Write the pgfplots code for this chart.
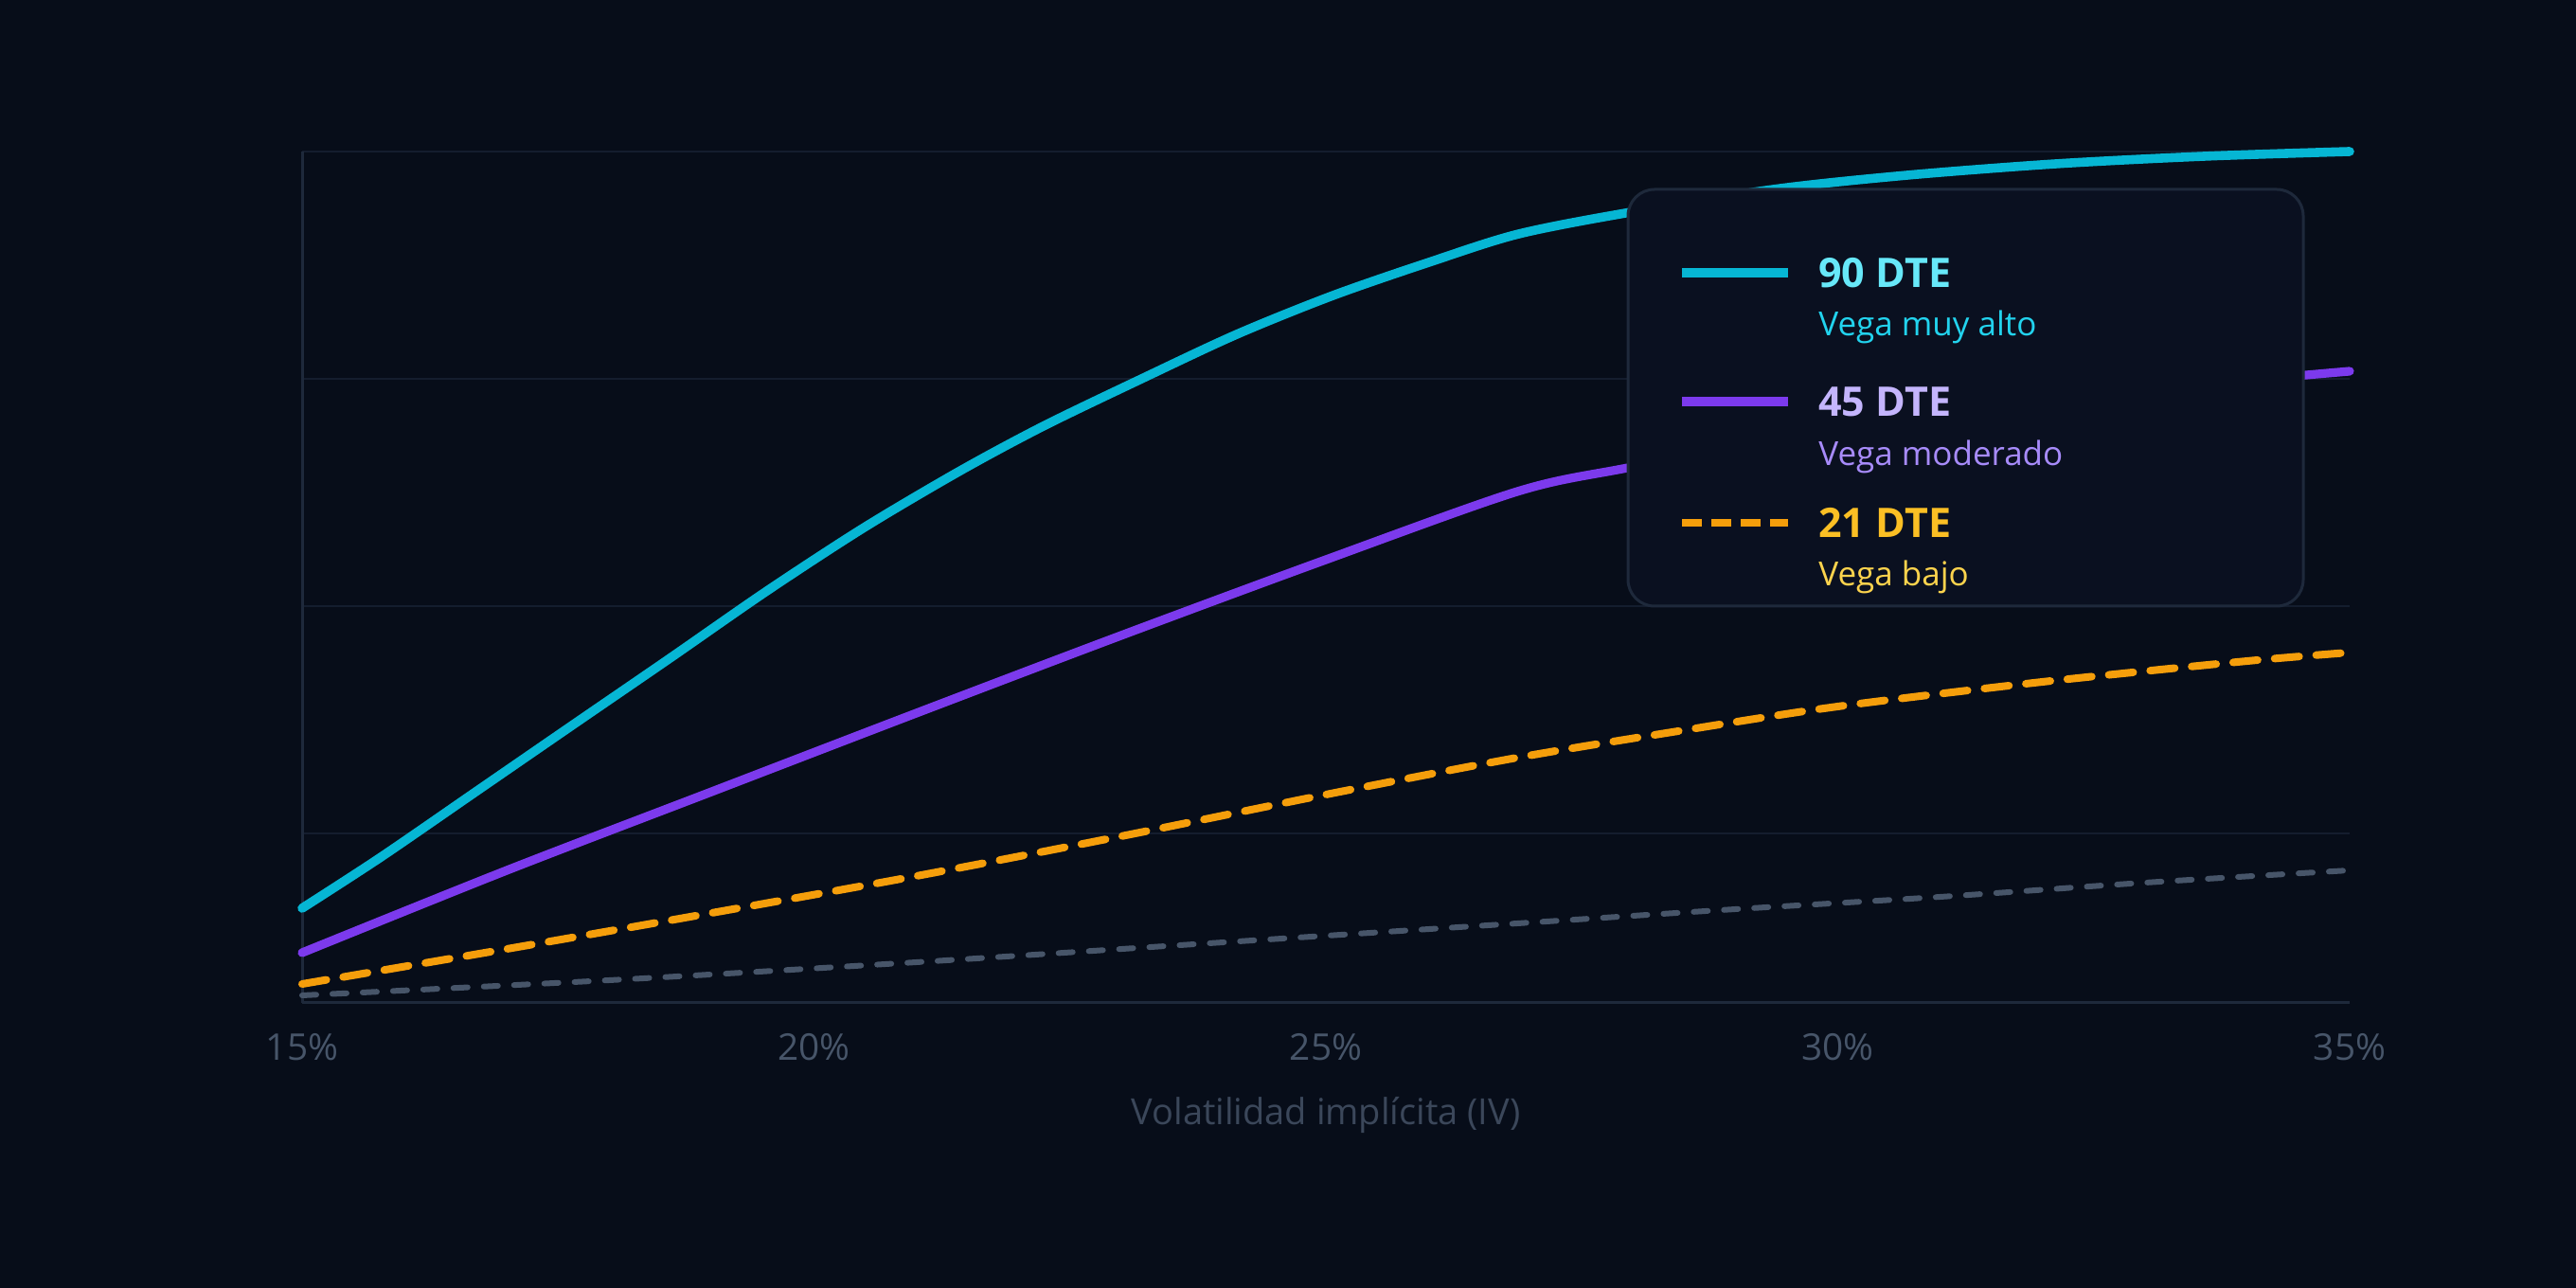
\documentclass[border=0pt]{standalone}
\usepackage{pgfplots}
\pgfplotsset{compat=1.18}
\usepackage{fontspec}
\setmainfont{Open Sans}
\definecolor{bgc}{HTML}{070D19}
\definecolor{gridc}{HTML}{141D2E}
\definecolor{axisc}{HTML}{1E293B}
\definecolor{tickc}{HTML}{475569}
\definecolor{labelc}{HTML}{3B475A}
\definecolor{cyanc}{HTML}{06B6D4}
\definecolor{purplec}{HTML}{7C3AED}
\definecolor{orangec}{HTML}{F59E0B}
\definecolor{grayc}{HTML}{475569}
\definecolor{legfill}{HTML}{0A1020}
\definecolor{legbord}{HTML}{1E293B}
\definecolor{cyant}{HTML}{67E8F9}
\definecolor{cyans}{HTML}{22D3EE}
\definecolor{purplet}{HTML}{C4B5FD}
\definecolor{purples}{HTML}{A78BFA}
\definecolor{oranget}{HTML}{FBBF24}
\definecolor{oranges}{HTML}{FCD34D}
\begin{document}
\begin{tikzpicture}[x=1pt,y=1pt]
\useasboundingbox (0,0) rectangle (1360,680);
\fill[bgc] (0,0) rectangle (1360,680);
\begin{axis}[
  at={(159.5pt,150.5pt)}, anchor=south west,
  scale only axis, width=1081pt, height=449.5pt,
  xmin=15, xmax=35, ymin=0, ymax=899,
  axis lines=left,
  axis line style={draw=axisc, line width=1.5pt, -},
  xtick={15,20,25,30,35},
  xticklabels={15\%,20\%,25\%,30\%,35\%},
  ytick={179,419,659,899}, yticklabels={},
  ymajorgrids, grid style={draw=gridc, line width=1pt},
  major tick length=0,
  xticklabel style={font=\fontsize{19.4}{20}\selectfont, text=tickc, anchor=center, yshift=-23.5pt},
  clip=false,
]
\addplot[grayc, line width=3pt, line cap=round, smooth, tension=0.5, dash pattern=on 7.5pt off 8.5pt] coordinates {
(15,8) (18,24) (21,43) (24,64) (26.87,84) (29,99) (31,112) (33,127) (35,140)};
\addplot[orangec, line width=4pt, line cap=round, smooth, tension=0.5, dash pattern=on 13pt off 9pt] coordinates {
(15,20) (17,57) (19,95) (21,134) (23,176) (25,220) (26.87,259) (28.5,288) (30,313) (32,339) (34,361) (35,370)};
\addplot[purplec, line width=4.6pt, line cap=round, smooth, tension=0.5] coordinates {
(15,53) (17,140) (19,223) (21,306) (23,388) (25,468) (26.87,540) (27.9,564) (29.5,594) (31,618) (32.5,638) (34,657) (35,667)};
\addplot[cyanc, line width=4.8pt, line cap=round, smooth, tension=0.5] coordinates {
(15,100) (15.77,154) (16.71,224) (17.65,294) (18.60,364.5) (19.54,435) (20.49,502) (21.43,562) (22.24,609) (23.19,658.5) (24.13,706) (25.07,747) (26.02,782.5) (26.87,811.6) (27.90,833.5) (29.37,859) (30.68,874) (32.13,886) (33.58,894) (35,899)};
\end{axis}
% x label
\node[anchor=base, inner sep=0, text=labelc, font=\fontsize{19}{20}\selectfont] at (700,86) {Volatilidad implícita (IV)};
% legend
\draw[legbord, fill=legfill, line width=1.5pt, rounded corners=14pt] (859.5,580) rectangle (1216,360);
\draw[cyanc, line width=4.8pt] (888,536) -- (944,536);
\draw[purplec, line width=4.8pt] (888,468) -- (944,468);
\draw[orangec, line width=4.2pt, dash pattern=on 10.5pt off 5pt] (888,404) -- (944,404);
\node[anchor=base west, inner sep=0, text=cyant, font=\bfseries\fontsize{21.5}{22}\selectfont] at (960,528) {90 DTE};
\node[anchor=base west, inner sep=0, text=cyans, font=\fontsize{17.5}{18}\selectfont] at (960,502.5) {Vega muy alto};
\node[anchor=base west, inner sep=0, text=purplet, font=\bfseries\fontsize{21.5}{22}\selectfont] at (960,460) {45 DTE};
\node[anchor=base west, inner sep=0, text=purples, font=\fontsize{17.5}{18}\selectfont] at (960,434) {Vega moderado};
\node[anchor=base west, inner sep=0, text=oranget, font=\bfseries\fontsize{21.5}{22}\selectfont] at (960,396) {21 DTE};
\node[anchor=base west, inner sep=0, text=oranges, font=\fontsize{17.5}{18}\selectfont] at (960,370.5) {Vega bajo};
\end{tikzpicture}
\end{document}
